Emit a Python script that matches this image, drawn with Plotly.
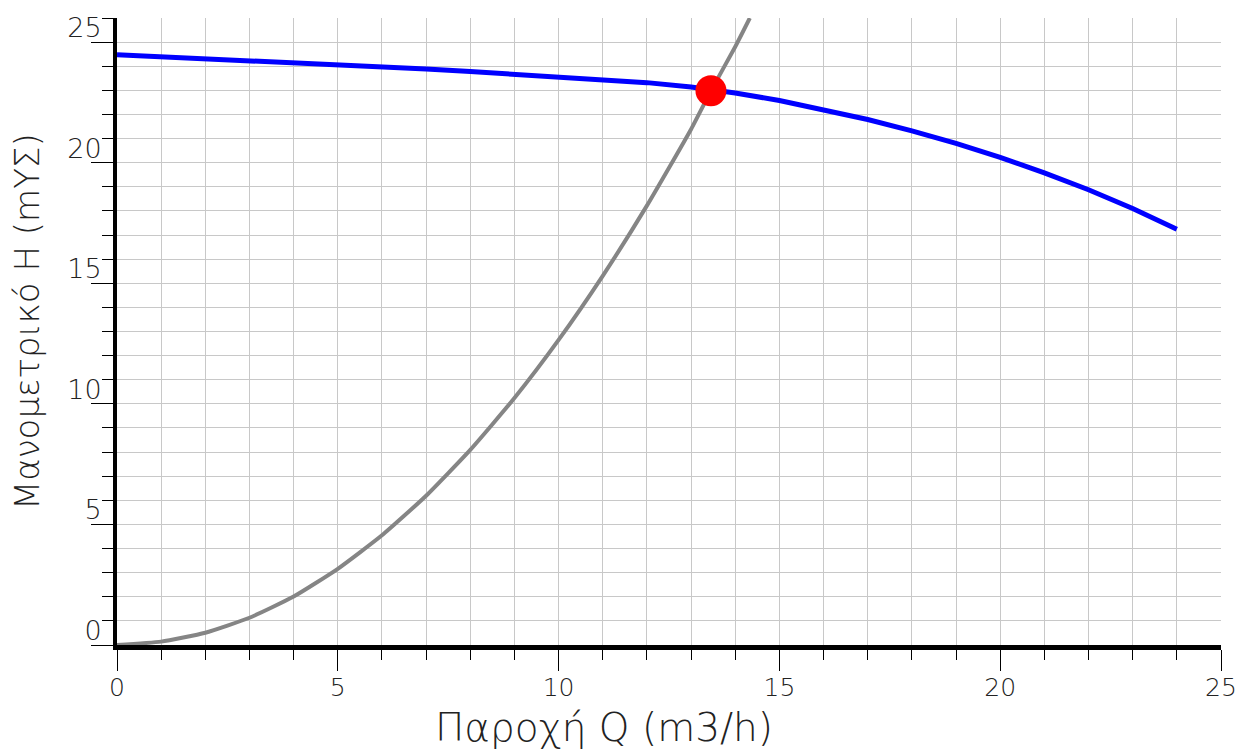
import plotly.graph_objects as go

# Pump characteristic curve (flow Q in m3/h, head H in m)
pump_q = [0, 1, 2, 3, 4, 5, 6, 7, 8, 9, 10, 11, 12, 13, 14, 15, 16, 17, 18, 19, 20, 21, 22, 23, 24]
pump_h = [24.48, 24.40, 24.32, 24.24, 24.15, 24.06, 23.97, 23.88, 23.78, 23.67, 23.56, 23.45,
          23.32, 23.14, 22.89, 22.58, 22.21, 21.79, 21.32, 20.80, 20.22, 19.58, 18.88, 18.10, 17.24]

# System (pipe network) curve
system_q = [0, 1, 2, 3, 4, 5, 6, 7, 8, 9, 10, 11, 12, 13, 13.45, 14, 14.33]
system_h = [0, 0.14, 0.51, 1.13, 2.01, 3.16, 4.55, 6.19, 8.09, 10.24, 12.65, 15.31, 18.22,
            21.39, 22.98, 24.81, 26.0]

# Operating point
op_q = [13.45]
op_h = [22.98]

x_range = [0, 25]
y_range = [0, 26]

FONT = "DejaVu Sans"
TEXT = "#222222"

fig = go.Figure()
fig.add_trace(go.Scatter(x=system_q, y=system_h, mode="lines",
                         line=dict(color="#858585", width=4, shape="spline", smoothing=0.5),
                         hoverinfo="skip"))
fig.add_trace(go.Scatter(x=pump_q, y=pump_h, mode="lines",
                         line=dict(color="#0000ff", width=5),
                         hoverinfo="skip"))
fig.add_trace(go.Scatter(x=op_q, y=op_h, mode="markers",
                         marker=dict(color="#ff0000", size=31, line=dict(width=0)),
                         hoverinfo="skip"))

grid = "#c8c8c8"
fig.update_xaxes(
    range=x_range, showline=True, linecolor="black", linewidth=5, automargin=False,
    tickmode="linear", tick0=0, dtick=5, ticks="outside", ticklen=21, tickwidth=1,
    tickcolor="black", showgrid=True, gridcolor=grid, gridwidth=1, zeroline=False,
    ticklabelstandoff=-5,
    tickfont=dict(family=FONT, size=25, color=TEXT, weight=200),
    minor=dict(dtick=1, ticks="outside", ticklen=10, tickwidth=1, tickcolor="black",
               showgrid=True, gridcolor=grid, gridwidth=1),
)
fig.update_yaxes(
    range=y_range, showline=True, linecolor="black", linewidth=4, automargin=False,
    tickmode="linear", tick0=0, dtick=5, ticks="outside", ticklen=22, tickwidth=1,
    tickcolor="black", showgrid=True, gridcolor=grid, gridwidth=1, zeroline=False,
    ticklabelposition="outside top", ticklabelstandoff=6, ticklabelshift=5,
    tickfont=dict(family=FONT, size=27, color=TEXT, weight=200),
    minor=dict(dtick=1, ticks="outside", ticklen=11, tickwidth=1, tickcolor="black",
               showgrid=True, gridcolor=grid, gridwidth=1),
)

fig.add_annotation(text="Παροχή Q (m3/h)", xref="paper", yref="paper",
                   x=0.441, y=-0.1308, xanchor="center", yanchor="middle", showarrow=False,
                   font=dict(family=FONT, size=39, color=TEXT, weight=200))
fig.add_annotation(text="Μανομετρικό H (mYΣ)", xref="paper", yref="paper",
                   x=-0.0815, y=0.515, xanchor="center", yanchor="middle", showarrow=False,
                   textangle=-90,
                   font=dict(family=FONT, size=34, color=TEXT, weight=200))

fig.update_layout(
    width=1238, height=754,
    margin=dict(l=117, r=17, t=18, b=109),
    paper_bgcolor="white", plot_bgcolor="white",
    showlegend=False,
)

fig.write_html("out.html")
